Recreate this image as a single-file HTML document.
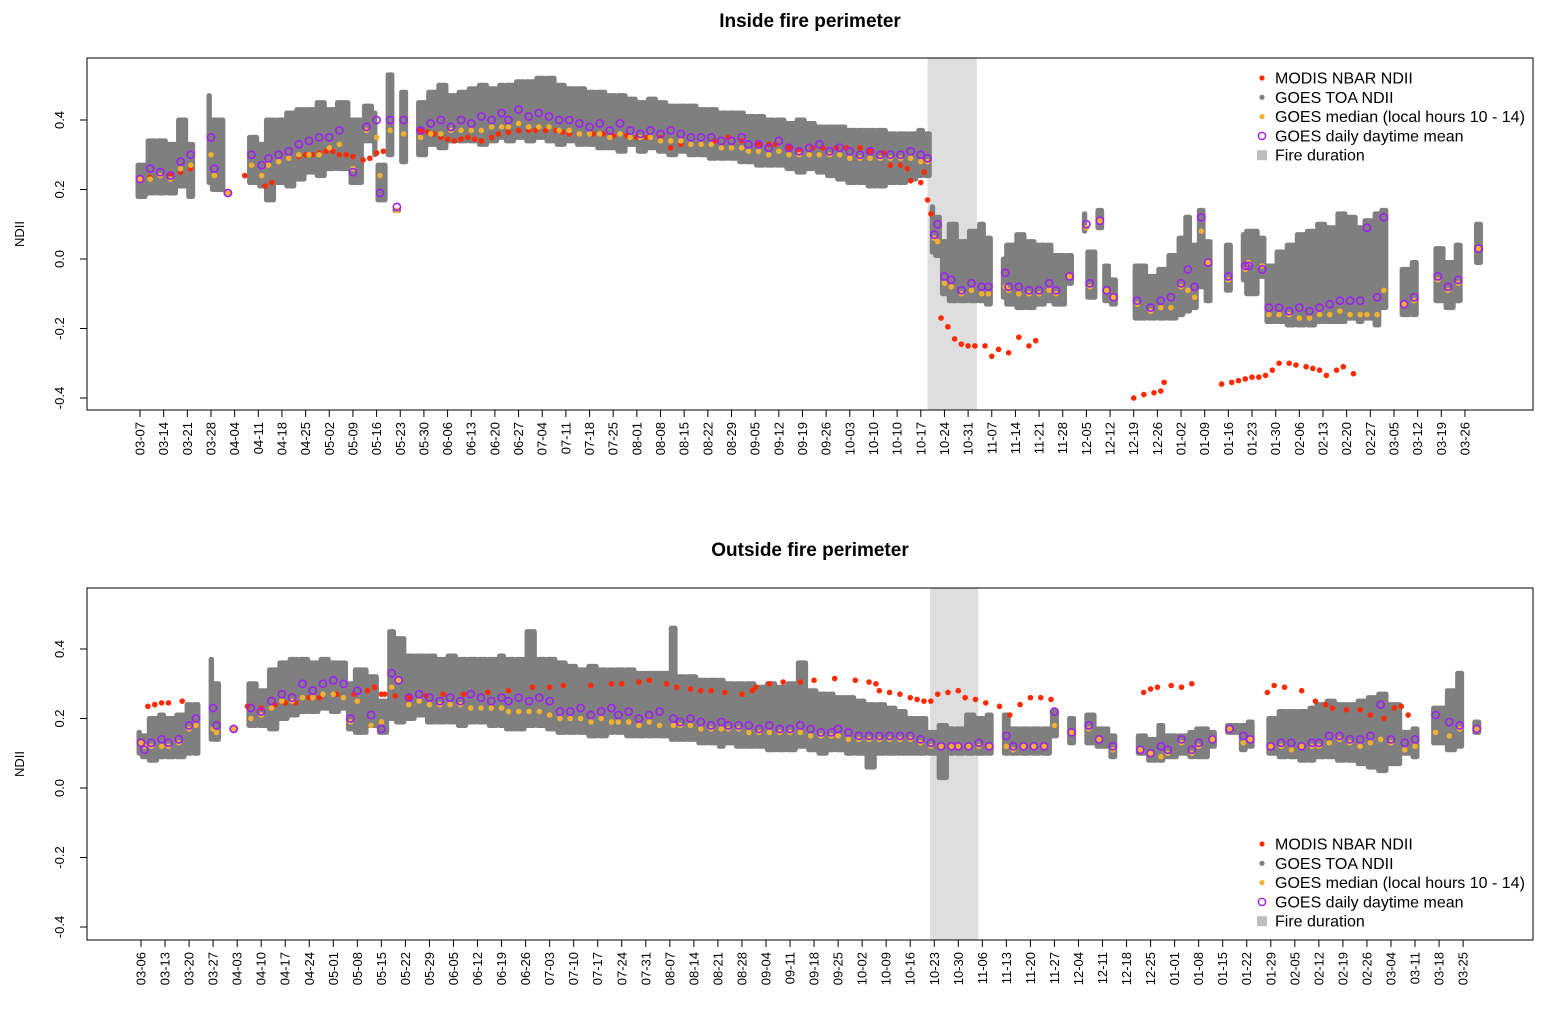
<!DOCTYPE html>
<html><head><meta charset="utf-8"><style>
body{margin:0;background:#fff}
svg{display:block;font-family:"Liberation Sans",Arial,sans-serif}
</style></head><body>
<svg id="chart" width="1547" height="1014" viewBox="0 0 1547 1014"></svg>
<script>
// ---- data: top panel (Inside fire perimeter); day index from first tick ----
const topTickLabels = ["03-07","03-14","03-21","03-28","04-04","04-11","04-18","04-25","05-02","05-09","05-16","05-23","05-30","06-06","06-13","06-20","06-27","07-04","07-11","07-18","07-25","08-01","08-08","08-15","08-22","08-29","09-05","09-12","09-19","09-26","10-03","10-10","10-10","10-17","10-24","10-31","11-07","11-14","11-21","11-28","12-05","12-12","12-19","12-26","01-02","01-09","01-16","01-23","01-30","02-06","02-13","02-20","02-27","03-05","03-12","03-19","03-26"];
const topFire = [233, 247.6];
const topGoesDay = [0,3,6,9,12,15,21,22,26,33,36,38,41,44,47,50,53,56,59,63,67,70,71,74,76,78,83,86,89,92,95,98,101,104,107,109,112,115,118,121,124,127,130,133,136,139,142,145,148,151,154,157,160,163,166,169,172,175,178,180,183,186,189,192,195,198,201,204,207,210,213,216,219,222,225,228,231,233,235,236,238,240,243,246,249,251,256,257,260,263,266,269,271,275,280,281,284,286,288,295,299,302,305,308,310,312,314,316,322,327,328,332,334,337,340,343,346,349,352,355,358,361,363,366,368,374,377,384,387,390,396];
const topGoesMin = [0.18,0.19,0.19,0.19,0.21,0.18,0.22,0.20,0.19,0.22,0.21,0.17,0.22,0.21,0.23,0.25,0.24,0.26,0.26,0.22,0.34,0.30,0.17,0.30,0.14,0.28,0.30,0.33,0.32,0.34,0.34,0.34,0.33,0.34,0.35,0.34,0.35,0.34,0.35,0.34,0.33,0.34,0.33,0.33,0.32,0.32,0.31,0.33,0.31,0.32,0.31,0.30,0.31,0.30,0.30,0.29,0.29,0.29,0.28,0.28,0.27,0.27,0.27,0.26,0.25,0.26,0.25,0.24,0.23,0.22,0.22,0.21,0.21,0.22,0.22,0.23,0.24,0.24,0.02,0.01,-0.10,-0.12,-0.12,-0.12,-0.12,-0.13,-0.11,-0.13,-0.14,-0.14,-0.13,-0.12,-0.13,-0.07,0.08,-0.11,0.09,-0.12,-0.13,-0.17,-0.17,-0.17,-0.17,-0.16,-0.15,-0.14,-0.08,-0.12,-0.09,-0.06,-0.10,-0.05,-0.18,-0.18,-0.19,-0.19,-0.19,-0.18,-0.18,-0.18,-0.17,-0.18,-0.17,-0.19,-0.14,-0.16,-0.16,-0.12,-0.14,-0.12,-0.01];
const topGoesMax = [0.27,0.34,0.34,0.33,0.40,0.33,0.47,0.40,0.19,0.35,0.33,0.40,0.40,0.42,0.43,0.43,0.45,0.43,0.45,0.40,0.44,0.42,0.27,0.53,0.14,0.48,0.45,0.48,0.50,0.47,0.48,0.49,0.50,0.49,0.50,0.50,0.51,0.51,0.52,0.52,0.50,0.49,0.49,0.48,0.48,0.47,0.47,0.46,0.45,0.46,0.45,0.44,0.44,0.44,0.43,0.43,0.42,0.42,0.42,0.41,0.41,0.40,0.40,0.39,0.40,0.39,0.38,0.38,0.38,0.37,0.37,0.37,0.37,0.36,0.36,0.36,0.37,0.36,0.15,0.12,0.05,0.10,0.05,0.08,0.10,0.06,0.00,0.04,0.07,0.05,0.04,0.04,0.01,0.01,0.13,0.02,0.14,-0.02,-0.06,-0.02,-0.05,-0.03,0.01,0.06,0.12,0.04,0.14,0.05,0.04,0.07,0.08,0.06,-0.02,0.02,0.04,0.07,0.08,0.10,0.09,0.13,0.12,0.09,0.11,0.13,0.14,-0.03,-0.01,0.03,-0.01,0.04,0.10];
const topGoesMed = [0.23,0.23,0.24,0.23,0.26,0.27,0.30,0.24,0.19,0.27,0.24,0.27,0.28,0.29,0.30,0.30,0.30,0.32,0.33,0.26,0.37,0.35,0.24,0.37,0.14,0.36,0.35,0.36,0.36,0.37,0.37,0.37,0.37,0.38,0.38,0.38,0.39,0.38,0.38,0.38,0.37,0.37,0.36,0.36,0.36,0.35,0.36,0.35,0.35,0.35,0.34,0.34,0.34,0.33,0.33,0.33,0.32,0.32,0.32,0.31,0.31,0.30,0.31,0.30,0.30,0.30,0.30,0.30,0.30,0.29,0.29,0.29,0.29,0.29,0.29,0.29,0.28,0.28,0.06,0.05,-0.07,-0.08,-0.10,-0.09,-0.10,-0.10,-0.08,-0.09,-0.10,-0.10,-0.10,-0.09,-0.10,-0.05,0.09,-0.08,0.11,-0.09,-0.11,-0.13,-0.15,-0.14,-0.14,-0.08,-0.09,-0.11,0.08,-0.01,-0.06,-0.03,-0.01,-0.02,-0.16,-0.16,-0.16,-0.17,-0.17,-0.16,-0.16,-0.15,-0.16,-0.16,-0.16,-0.16,-0.09,-0.13,-0.12,-0.06,-0.09,-0.07,0.03];
const topGoesMean = [0.23,0.26,0.25,0.24,0.28,0.30,0.35,0.26,0.19,0.30,0.27,0.29,0.30,0.31,0.33,0.34,0.35,0.35,0.37,0.25,0.38,0.40,0.19,0.40,0.15,0.40,0.37,0.39,0.40,0.38,0.40,0.39,0.41,0.40,0.42,0.40,0.43,0.41,0.42,0.41,0.40,0.40,0.39,0.38,0.39,0.37,0.39,0.37,0.36,0.37,0.36,0.37,0.36,0.35,0.35,0.35,0.34,0.34,0.35,0.33,0.33,0.32,0.34,0.32,0.31,0.32,0.33,0.31,0.32,0.31,0.30,0.31,0.30,0.30,0.30,0.31,0.30,0.29,0.07,0.10,-0.05,-0.06,-0.09,-0.07,-0.08,-0.08,-0.04,-0.08,-0.08,-0.09,-0.09,-0.07,-0.09,-0.05,0.10,-0.07,0.11,-0.09,-0.11,-0.12,-0.14,-0.12,-0.11,-0.07,-0.03,-0.08,0.12,-0.01,-0.05,-0.02,-0.02,-0.03,-0.14,-0.14,-0.15,-0.14,-0.15,-0.14,-0.13,-0.12,-0.12,-0.12,0.09,-0.11,0.12,-0.13,-0.11,-0.05,-0.08,-0.06,0.03];
const topModisDay = [0,3,6,9,12,15,31,37,39,44,47,49,51,53,55,57,59,61,63,66,68,70,72,83,85,87,89,91,93,95,97,99,101,104,106,109,112,115,117,120,123,125,127,130,134,137,140,144,147,150,154,157,160,163,166,170,174,178,183,186,188,192,195,199,202,206,209,213,216,220,222,225,227,228,231,232,233,234,236,237,239,241,243,245,247,250,252,254,257,260,263,265,294,297,300,302,303,320,323,325,327,329,331,333,335,337,340,342,345,347,349,351,354,356,359];
const topModisVal = [0.23,0.235,0.24,0.245,0.25,0.26,0.24,0.21,0.22,0.29,0.295,0.30,0.30,0.305,0.31,0.31,0.30,0.30,0.295,0.285,0.29,0.305,0.31,0.37,0.365,0.36,0.35,0.345,0.34,0.345,0.35,0.345,0.34,0.35,0.36,0.365,0.37,0.37,0.37,0.37,0.37,0.365,0.36,0.36,0.36,0.36,0.355,0.355,0.35,0.35,0.35,0.32,0.33,0.33,0.33,0.34,0.35,0.34,0.33,0.33,0.33,0.32,0.315,0.32,0.32,0.32,0.32,0.32,0.31,0.305,0.27,0.27,0.26,0.225,0.22,0.25,0.17,0.13,0.05,-0.17,-0.195,-0.23,-0.245,-0.25,-0.25,-0.25,-0.28,-0.26,-0.27,-0.225,-0.25,-0.235,-0.40,-0.39,-0.385,-0.38,-0.355,-0.36,-0.355,-0.35,-0.345,-0.34,-0.34,-0.335,-0.32,-0.30,-0.30,-0.305,-0.31,-0.315,-0.32,-0.335,-0.32,-0.31,-0.33];

// ---- data: bottom panel (Outside fire perimeter) ----
const botTickLabels = ["03-06","03-13","03-20","03-27","04-03","04-10","04-17","04-24","05-01","05-08","05-15","05-22","05-29","06-05","06-12","06-19","06-26","07-03","07-10","07-17","07-24","07-31","08-07","08-14","08-21","08-28","09-04","09-11","09-18","09-25","10-02","10-09","10-16","10-23","10-30","11-06","11-13","11-20","11-27","12-04","12-11","12-18","12-25","01-01","01-08","01-15","01-22","01-29","02-05","02-12","02-19","02-26","03-04","03-11","03-18","03-25"];
const botFire = [229.8, 243.8];
const botGoesDay = [0,1,3,6,8,11,14,16,21,22,27,32,35,38,41,44,47,50,53,56,59,61,63,67,70,73,75,78,81,84,87,90,93,96,99,102,105,107,110,113,116,119,122,125,128,131,134,137,139,142,145,148,151,155,157,160,163,166,169,171,174,177,180,183,186,189,192,195,198,201,203,206,209,212,215,218,221,224,227,230,233,236,238,241,244,247,252,254,257,260,263,266,271,276,279,283,291,294,297,299,303,306,308,312,317,321,323,329,332,335,338,341,343,346,349,352,355,358,361,364,368,371,377,381,384,389];
const botGoesMin = [0.10,0.09,0.08,0.09,0.09,0.09,0.10,0.10,0.14,0.14,0.17,0.18,0.18,0.17,0.20,0.21,0.22,0.22,0.23,0.22,0.23,0.17,0.16,0.18,0.16,0.20,0.19,0.20,0.21,0.19,0.19,0.19,0.18,0.19,0.19,0.18,0.18,0.17,0.17,0.18,0.18,0.17,0.16,0.16,0.16,0.15,0.15,0.16,0.16,0.15,0.15,0.15,0.15,0.14,0.14,0.14,0.13,0.13,0.12,0.13,0.12,0.12,0.12,0.11,0.11,0.11,0.12,0.11,0.10,0.11,0.11,0.10,0.10,0.06,0.10,0.10,0.10,0.10,0.10,0.10,0.03,0.10,0.10,0.10,0.10,0.10,0.10,0.10,0.10,0.10,0.10,0.15,0.13,0.13,0.12,0.09,0.10,0.08,0.08,0.09,0.10,0.09,0.09,0.12,0.16,0.11,0.12,0.10,0.09,0.09,0.08,0.08,0.09,0.09,0.08,0.08,0.07,0.06,0.05,0.07,0.10,0.09,0.13,0.11,0.12,0.16];
const botGoesMax = [0.16,0.15,0.20,0.21,0.20,0.21,0.24,0.24,0.37,0.30,0.17,0.30,0.28,0.34,0.36,0.37,0.37,0.36,0.37,0.36,0.36,0.30,0.34,0.32,0.25,0.45,0.43,0.38,0.38,0.38,0.37,0.38,0.37,0.37,0.37,0.37,0.38,0.37,0.37,0.45,0.37,0.37,0.36,0.35,0.34,0.35,0.34,0.34,0.34,0.34,0.33,0.33,0.33,0.46,0.32,0.32,0.31,0.31,0.31,0.30,0.30,0.30,0.29,0.30,0.29,0.30,0.36,0.28,0.27,0.27,0.26,0.26,0.25,0.24,0.24,0.23,0.22,0.20,0.20,0.16,0.18,0.17,0.17,0.21,0.20,0.21,0.21,0.17,0.17,0.17,0.17,0.22,0.20,0.21,0.17,0.15,0.15,0.14,0.18,0.15,0.15,0.16,0.17,0.16,0.18,0.18,0.19,0.20,0.22,0.22,0.22,0.23,0.24,0.25,0.24,0.24,0.25,0.26,0.27,0.24,0.16,0.17,0.23,0.28,0.33,0.19];
const botGoesMed = [0.13,0.12,0.12,0.12,0.12,0.13,0.17,0.18,0.17,0.16,0.17,0.20,0.21,0.23,0.25,0.25,0.26,0.26,0.27,0.27,0.26,0.19,0.25,0.18,0.19,0.29,0.31,0.24,0.25,0.24,0.24,0.24,0.24,0.23,0.23,0.23,0.23,0.22,0.22,0.22,0.22,0.21,0.20,0.20,0.20,0.19,0.20,0.19,0.19,0.19,0.18,0.19,0.18,0.18,0.18,0.18,0.17,0.17,0.17,0.17,0.17,0.16,0.16,0.16,0.16,0.16,0.16,0.15,0.15,0.15,0.15,0.14,0.14,0.14,0.14,0.14,0.14,0.14,0.13,0.12,0.12,0.12,0.12,0.12,0.12,0.12,0.12,0.11,0.12,0.12,0.12,0.18,0.16,0.17,0.14,0.11,0.11,0.10,0.09,0.10,0.13,0.10,0.12,0.14,0.17,0.13,0.14,0.12,0.12,0.11,0.12,0.12,0.12,0.13,0.14,0.13,0.12,0.13,0.14,0.13,0.11,0.12,0.16,0.15,0.17,0.17];
const botGoesMean = [0.13,0.11,0.13,0.14,0.13,0.14,0.18,0.20,0.23,0.18,0.17,0.23,0.22,0.25,0.27,0.26,0.30,0.28,0.30,0.31,0.30,0.20,0.28,0.21,0.17,0.33,0.31,0.26,0.27,0.26,0.25,0.26,0.25,0.27,0.26,0.25,0.26,0.25,0.26,0.25,0.26,0.25,0.22,0.22,0.23,0.21,0.22,0.23,0.21,0.22,0.20,0.21,0.22,0.20,0.19,0.20,0.19,0.18,0.19,0.18,0.18,0.18,0.17,0.18,0.17,0.17,0.18,0.17,0.16,0.16,0.17,0.16,0.15,0.15,0.15,0.15,0.15,0.15,0.14,0.13,0.12,0.12,0.12,0.12,0.13,0.12,0.15,0.12,0.12,0.12,0.12,0.22,0.16,0.18,0.14,0.12,0.11,0.10,0.12,0.11,0.14,0.11,0.13,0.14,0.17,0.15,0.14,0.12,0.13,0.13,0.12,0.13,0.13,0.15,0.15,0.14,0.14,0.15,0.24,0.14,0.13,0.14,0.21,0.19,0.18,0.17];
const botModisDay = [2,4,6,8,12,31,35,39,42,45,49,52,57,62,66,68,70,71,74,78,83,88,94,101,107,114,119,123,131,137,140,145,148,153,156,160,163,166,170,175,178,179,183,187,192,196,202,208,212,214,215,218,221,224,226,228,230,232,235,238,240,243,246,250,253,256,259,262,265,292,294,296,300,303,306,328,330,333,338,342,345,347,351,355,358,362,365,367,369];
const botModisVal = [0.235,0.24,0.245,0.245,0.25,0.235,0.23,0.24,0.245,0.245,0.26,0.26,0.27,0.27,0.28,0.29,0.27,0.27,0.265,0.26,0.265,0.27,0.27,0.275,0.28,0.29,0.29,0.295,0.295,0.30,0.30,0.305,0.31,0.30,0.29,0.285,0.28,0.28,0.275,0.27,0.28,0.29,0.30,0.305,0.305,0.31,0.315,0.31,0.305,0.30,0.28,0.275,0.27,0.26,0.255,0.25,0.25,0.27,0.275,0.28,0.26,0.255,0.245,0.235,0.21,0.24,0.26,0.26,0.255,0.275,0.285,0.29,0.295,0.29,0.30,0.275,0.295,0.29,0.28,0.25,0.24,0.23,0.225,0.225,0.21,0.20,0.23,0.235,0.21];

const NS = "http://www.w3.org/2000/svg";
const svg = document.getElementById("chart");
function mk(tag, attrs, parent){
  const e = document.createElementNS(NS, tag);
  for (const k in attrs) e.setAttribute(k, attrs[k]);
  (parent||svg).appendChild(e);
  return e;
}
const COL = {red:"#ff2a00", gray:"#7f7f7f", orange:"#f0b030", purple:"#a020f0", shade:"#dedede"};

function panel(cfg){
  const g = mk("g", {});
  
  
  const xs = d => cfg.x0 + d * cfg.k;
  const ys = v => cfg.y0 - v * 347.5;
  const sh = mk("rect", {x: xs(cfg.fire[0]), y: cfg.top, width: xs(cfg.fire[1]) - xs(cfg.fire[0]), height: cfg.bottom - cfg.top, fill: COL.shade}, g);
  
  
  const gg = mk("g", {}, g);
  
  
  cfg.day.forEach((d, i) => {
    const y1 = ys(cfg.max[i]) - 2.5, y2 = ys(cfg.min[i]) + 2.5;
    const gap = i < cfg.day.length - 1 ? cfg.day[i+1] - d : 99;
    const w = gap <= 4 ? gap * cfg.k + 2 : 9;
    const r = mk("rect", {x: xs(d) - 4.5, y: y1, width: w, height: Math.max(5, y2 - y1), rx: 2.5, fill: COL.gray}, gg);
    
    
  });
  const gm = mk("g", {}, g);
  
  
  cfg.mday.forEach((d, i) => {
    const c = mk("circle", {cx: xs(d), cy: ys(cfg.mval[i]), r: 2.8, fill: COL.red}, gm);
    
    
  });
  const go = mk("g", {}, g);
  
  
  cfg.day.forEach((d, i) => {
    const c = mk("circle", {cx: xs(d), cy: ys(cfg.med[i]), r: 2.8, fill: COL.orange}, go);
    
    
  });
  const gp = mk("g", {}, g);
  
  
  cfg.day.forEach((d, i) => {
    const c = mk("circle", {cx: xs(d), cy: ys(cfg.mean[i]), r: 3.6, fill: "none", stroke: COL.purple, "stroke-width": 1.6}, gp);
    
    
  });
  const fr = mk("rect", {x: 87, y: cfg.top, width: 1446, height: cfg.bottom - cfg.top, fill: "none", stroke: "#000", "stroke-width": 1}, g);
  
  
  const t = mk("text", {x: 810, y: cfg.titleY, "text-anchor": "middle", "font-size": 19, "font-weight": "bold"}, g);
  t.textContent = cfg.title;
  
  
  [-0.4, -0.2, 0, 0.2, 0.4].forEach(v => {
    const y = ys(v);
    const l = mk("line", {x1: 80, x2: 87, y1: y, y2: y, stroke: "#000"}, g);
    
    
    const tx = mk("text", {x: 0, y: 0, transform: `translate(64,${y}) rotate(-90)`, "text-anchor": "middle", "font-size": 13}, g);
    tx.textContent = v.toFixed(1);
    
    
  });
  mk("line", {x1: 87, x2: 87, y1: ys(0.4), y2: ys(-0.4), stroke: "#000"}, g);
  const yt = mk("text", {x: 0, y: 0, transform: `translate(24,${(cfg.top + cfg.bottom) / 2}) rotate(-90)`, "text-anchor": "middle", "font-size": 13}, g);
  yt.textContent = "NDII";
  
  
  mk("line", {x1: xs(0), x2: xs(7 * (cfg.ticks.length - 1)), y1: cfg.bottom, y2: cfg.bottom, stroke: "#000"}, g);
  cfg.ticks.forEach((lab, i) => {
    const x = xs(7 * i);
    const l = mk("line", {x1: x, x2: x, y1: cfg.bottom, y2: cfg.bottom + 7, stroke: "#000"}, g);
    
    
    const tx = mk("text", {x: 0, y: 0, transform: `translate(${x + 4.5},${cfg.bottom + 12}) rotate(-90)`, "text-anchor": "end", "font-size": 13}, g);
    tx.textContent = lab;
    
    
  });
  const lg = mk("g", {}, g);
  
  
  const items = ["MODIS NBAR NDII", "GOES TOA NDII", "GOES median (local hours 10 - 14)", "GOES daily daytime mean", "Fire duration"];
  items.forEach((s, i) => {
    const y = cfg.legY + i * 19.3;
    let m;
    if (i === 0) m = mk("circle", {cx: 1262, cy: y, r: 2.6, fill: COL.red}, lg);
    if (i === 1) m = mk("circle", {cx: 1262, cy: y, r: 2.6, fill: COL.gray}, lg);
    if (i === 2) m = mk("circle", {cx: 1262, cy: y, r: 2.6, fill: COL.orange}, lg);
    if (i === 3) m = mk("circle", {cx: 1262, cy: y, r: 3.6, fill: "none", stroke: COL.purple, "stroke-width": 1.4}, lg);
    if (i === 4) m = mk("rect", {x: 1257, y: y - 5, width: 10, height: 10, fill: "#bebebe"}, lg);
    
    
    const tx = mk("text", {x: 1275, y: y + 5.5, "font-size": 16}, lg);
    tx.textContent = s;
    
    
  });
}

panel({name: "inside-fire-panel", title: "Inside fire perimeter", titleY: 27, top: 58, bottom: 410, x0: 140, k: 3.38, y0: 259,
  fire: topFire, ticks: topTickLabels, day: topGoesDay, min: topGoesMin, max: topGoesMax, med: topGoesMed, mean: topGoesMean,
  mday: topModisDay, mval: topModisVal, legY: 78});
panel({name: "outside-fire-panel", title: "Outside fire perimeter", titleY: 556, top: 588, bottom: 940, x0: 141, k: 3.434, y0: 788,
  fire: botFire, ticks: botTickLabels, day: botGoesDay, min: botGoesMin, max: botGoesMax, med: botGoesMed, mean: botGoesMean,
  mday: botModisDay, mval: botModisVal, legY: 844});
</script>
</body></html>
